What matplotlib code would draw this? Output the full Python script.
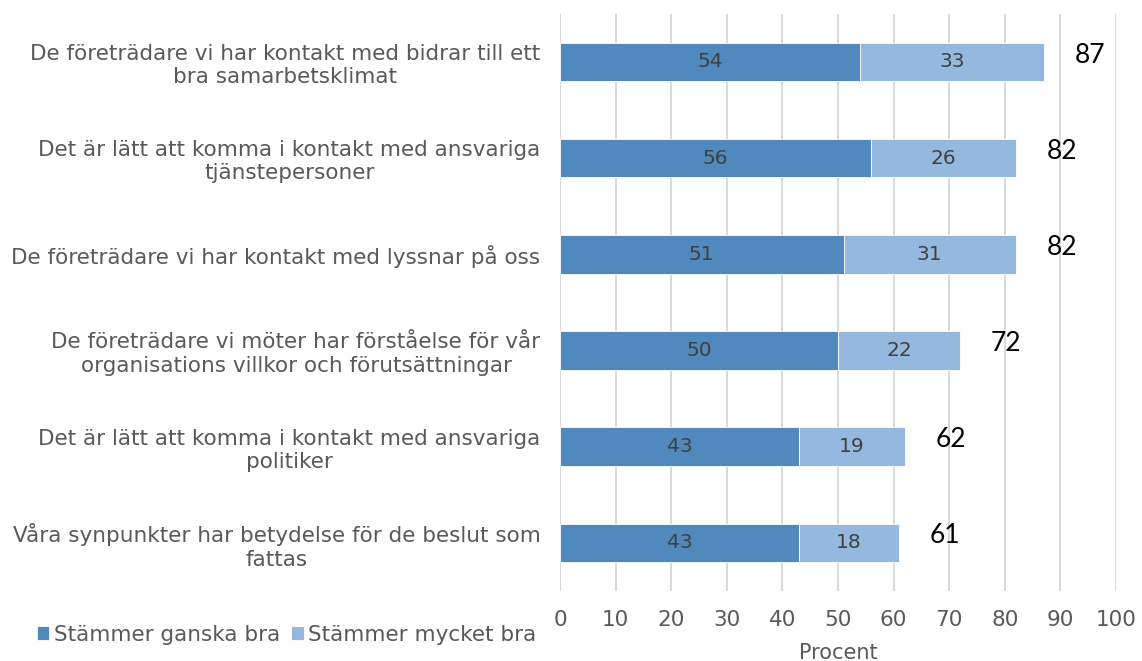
import matplotlib.pyplot as plt
import numpy as np

# survey statements (top to bottom)
categories = [
    'De företrädare vi har kontakt med bidrar till ett\nbra samarbetsklimat',
    'Det är lätt att komma i kontakt med ansvariga\ntjänstepersoner',
    'De företrädare vi har kontakt med lyssnar på oss',
    'De företrädare vi möter har förståelse för vår\norganisations villkor och förutsättningar',
    'Det är lätt att komma i kontakt med ansvariga\npolitiker',
    'Våra synpunkter har betydelse för de beslut som\nfattas',
]
ganska_bra = [54, 56, 51, 50, 43, 43]
mycket_bra = [33, 26, 31, 22, 19, 18]
totals = [87, 82, 82, 72, 62, 61]
series_names = ['Stämmer ganska bra', 'Stämmer mycket bra']

dark = '#4F89BD'
light = '#95B8DF'
grey = '#595959'

fig = plt.figure(figsize=(11.42, 6.61), dpi=100)
ax = fig.add_axes([0.4904, 0.106, 0.4868, 0.873])

y = np.arange(len(categories))
b1 = ax.barh(y, ganska_bra, height=0.4, color=dark, edgecolor='white', linewidth=0.6,
             label=series_names[0], zorder=3)
b2 = ax.barh(y, mycket_bra, left=ganska_bra, height=0.4, color=light, edgecolor='white',
             linewidth=0.6, label=series_names[1], zorder=3)

ax.bar_label(b1, labels=[str(v) for v in ganska_bra], label_type='center',
             color='#404040', fontsize=14.5)
ax.bar_label(b2, labels=[str(v) for v in mycket_bra], label_type='center',
             color='#404040', fontsize=14.5)

# totals to the right of each bar
for yi, t in zip(y, totals):
    ax.annotate(str(t), (t, yi), xytext=(33, 5), textcoords='offset points',
                ha='center', va='center', fontsize=19, family='Lato', color='black')

ax.set_xlim(0, 100)
ax.set_ylim(len(categories) - 0.5, -0.5)
ax.set_xticks(range(0, 101, 10))
ax.set_yticks(y)
ax.set_yticklabels(categories, fontsize=15.5, color=grey, multialignment='center')
ax.tick_params(axis='y', length=0, pad=14)
ax.tick_params(axis='x', length=0, pad=14, labelsize=15.5, labelcolor=grey)
ax.xaxis.grid(True, color='#D9D9D9', linewidth=1.4, zorder=0)
ax.set_axisbelow(True)
for s in ax.spines.values():
    s.set_visible(False)
ax.set_xlabel('Procent', fontsize=15, color=grey, labelpad=9)

fig.legend(handles=[b1, b2], labels=series_names, loc='center left',
           bbox_to_anchor=(0.015, 0.04), ncol=2, frameon=False, fontsize=15.5,
           labelcolor=grey, handlelength=0.6, handleheight=0.6, handletextpad=0.2,
           columnspacing=0.5)

fig.savefig('out.png', dpi=100)
